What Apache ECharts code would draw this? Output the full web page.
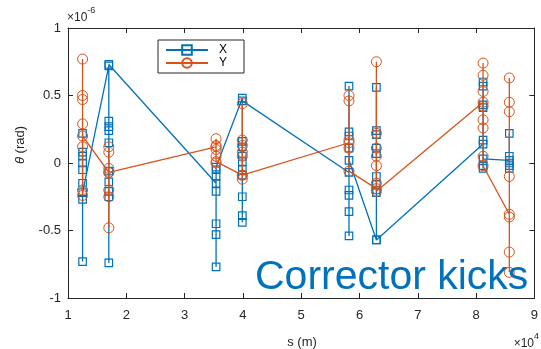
<!DOCTYPE html>
<html>
<head>
<meta charset="utf-8">
<script src="https://cdn.jsdelivr.net/npm/echarts@6/dist/echarts.min.js"></script>
<style>
  html, body { margin: 0; padding: 0; background: #fff; }
  #chart { width: 541px; height: 349px; }
</style>
</head>
<body>
<div id="chart"></div>
<script>
// Corrector positions along the ring, in units of 1e4 m
const correctorS = [1.25, 1.70, 3.54, 3.99, 5.82, 6.29, 8.12, 8.57];

// Horizontal kicks (units of 1e-6 rad), one list per corrector group, in beam order
const kickX = [
  [0.22, 0.08, 0.05, 0.00, -0.05, -0.15, -0.27, -0.73, -0.22],
  [0.72, 0.31, 0.27, 0.24, 0.15, -0.06, -0.14, -0.21, -0.25, -0.74, 0.73],
  [-0.15, -0.05, -0.10, -0.21, -0.45, -0.53, -0.77, -0.03],
  [0.48, 0.12, 0.16, 0.05, 0.01, -0.05, -0.09, -0.25, -0.39, -0.44, 0.46],
  [-0.07, 0.57, 0.23, 0.20, 0.11, -0.20, -0.24, -0.36, -0.54, 0.02],
  [-0.57, 0.56, 0.24, 0.21, 0.11, 0.07, -0.10, -0.16, -0.20, -0.22, -0.57],
  [0.14, 0.60, 0.57, 0.43, 0.41, 0.17, -0.02, -0.04, 0.03],
  [0.02, 0.22, 0.05, 0.00, -0.02, -0.04]
];

// Vertical kicks (units of 1e-6 rad)
const kickY = [
  [0.77, 0.50, 0.47, 0.29, 0.12, -0.20, -0.24, 0.20],
  [-0.07, 0.12, 0.08, -0.04, -0.20, -0.25, -0.48, -0.07],
  [0.12, 0.18, 0.13, 0.10, 0.05, 0.01, 0.00],
  [-0.09, 0.44, 0.17, 0.13, 0.08, 0.05, -0.12, -0.09],
  [0.15, 0.50, 0.46, 0.17, 0.11, -0.06],
  [-0.19, 0.75, 0.22, 0.11, 0.05, -0.02, -0.15, -0.21],
  [0.45, 0.74, 0.65, 0.53, 0.42, 0.32, 0.26, 0.05, -0.02],
  [-0.38, 0.63, 0.45, 0.38, -0.10, -0.40, -0.66, -0.81]
];

const xTicks = [1, 2, 3, 4, 5, 6, 7, 8, 9];
const yTicks = [-1, -0.5, 0, 0.5, 1];

const seriesNames = ['X', 'Y'];
const blue = '#0072BD';
const orange = '#D95319';
const axisColor = '#262626';
const font = 'Helvetica, Arial, "Liberation Sans", sans-serif';

function toPoints(groups) {
  const pts = [];
  groups.forEach((g, i) => g.forEach(v => pts.push([correctorS[i], v])));
  return pts;
}

const chart = echarts.init(document.getElementById('chart'), null, { renderer: 'canvas' });

const baseAxis = {
  axisLine: { show: true, onZero: false, lineStyle: { color: axisColor, width: 1 } },
  axisTick: { show: true, inside: true, length: 5, lineStyle: { color: axisColor } },
  splitLine: { show: false }
};

chart.setOption({
  animation: false,
  backgroundColor: '#fff',
  grid: { left: 68, right: 4, top: 28, bottom: 51, containLabel: false },
  xAxis: [
    Object.assign({}, baseAxis, {
      type: 'value', min: xTicks[0], max: xTicks[xTicks.length - 1], interval: 1,
      position: 'bottom',
      axisLabel: { color: axisColor, fontSize: 13, fontFamily: font, margin: 11 }
    }),
    Object.assign({}, baseAxis, {
      type: 'value', min: xTicks[0], max: xTicks[xTicks.length - 1], interval: 1,
      position: 'top', axisLabel: { show: false }
    })
  ],
  yAxis: [
    Object.assign({}, baseAxis, {
      type: 'value', min: yTicks[0], max: yTicks[yTicks.length - 1], interval: 0.5,
      position: 'left',
      axisLabel: { color: axisColor, fontSize: 13, fontFamily: font, margin: 7 }
    }),
    Object.assign({}, baseAxis, {
      type: 'value', min: yTicks[0], max: yTicks[yTicks.length - 1], interval: 0.5,
      position: 'right', axisLabel: { show: false }
    })
  ],
  legend: {
    left: 158, top: 40,
    orient: 'vertical',
    data: seriesNames,
    backgroundColor: '#fff',
    borderColor: axisColor, borderWidth: 1,
    padding: [4, 17, 4, 7],
    itemWidth: 42, itemHeight: 12, itemGap: 1,
    textStyle: { color: '#000', fontSize: 12, fontFamily: font, padding: [0, 0, 0, 6] }
  },
  series: [
    {
      name: seriesNames[0], type: 'line',
      data: toPoints(kickX),
      symbol: 'rect', symbolSize: 7.5, showAllSymbol: true,
      lineStyle: { color: blue, width: 1.3 },
      itemStyle: { color: 'rgba(0,0,0,0)', borderColor: blue, borderWidth: 1.2 },
      z: 3
    },
    {
      name: seriesNames[1], type: 'line',
      data: toPoints(kickY),
      symbol: 'circle', symbolSize: 10, showAllSymbol: true,
      lineStyle: { color: orange, width: 1.3 },
      itemStyle: { color: 'rgba(0,0,0,0)', borderColor: orange, borderWidth: 1 },
      z: 4
    }
  ],
  graphic: [
    {
      type: 'text', left: 67, top: 6, z: 10,
      style: {
        text: '{a|×10}{b|-6}',
        rich: {
          a: { fontSize: 12, fontFamily: font, fill: axisColor, padding: [6, 0, 0, 0] },
          b: { fontSize: 9, fontFamily: font, fill: axisColor, verticalAlign: 'top' }
        }
      }
    },
    {
      type: 'text', right: 2, top: 332, z: 10,
      style: {
        text: '{a|×10}{b|4}',
        rich: {
          a: { fontSize: 12, fontFamily: font, fill: axisColor, padding: [6, 0, 0, 0] },
          b: { fontSize: 9, fontFamily: font, fill: axisColor, verticalAlign: 'top' }
        }
      }
    },
    {
      type: 'text', x: 302, y: 342, z: 10,
      style: {
        text: 's (m)', fontSize: 13, fontFamily: font, fill: axisColor,
        align: 'center', verticalAlign: 'middle'
      }
    },
    {
      type: 'text', x: 20, y: 145, rotation: Math.PI / 2, z: 10,
      style: {
        text: '{i|θ} (rad)',
        align: 'center', verticalAlign: 'middle',
        fontSize: 13, fontFamily: font, fill: axisColor,
        rich: { i: { fontStyle: 'italic', fontSize: 13, fontFamily: font, fill: axisColor } }
      }
    },
    {
      type: 'text', x: 255, y: 298, z: 10,
      style: {
        text: 'Corrector kicks', fontSize: 41, fontFamily: font, fill: blue,
        align: 'left', verticalAlign: 'bottom'
      }
    }
  ]
});
</script>
</body>
</html>
